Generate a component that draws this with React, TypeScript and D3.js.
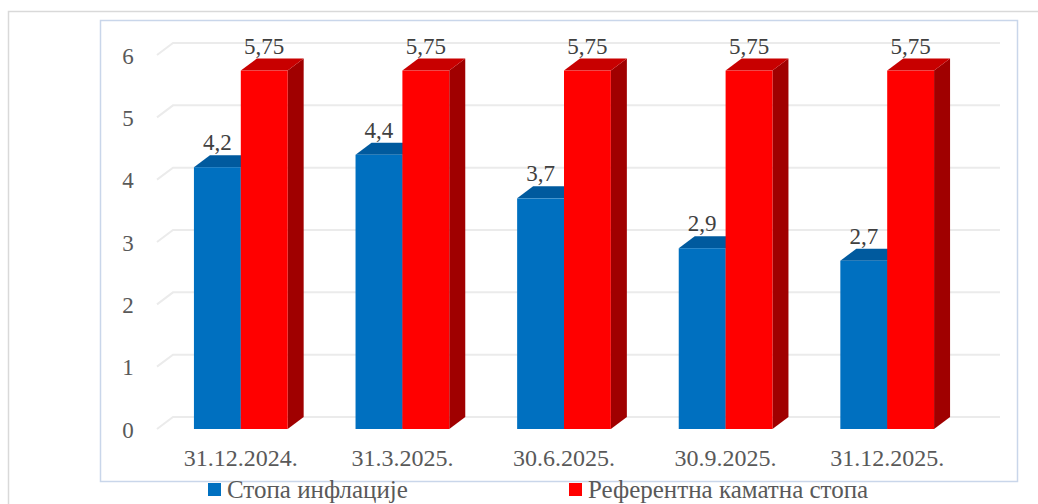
import React from "react";
import * as d3 from "d3";

const categories = ["31.12.2024.", "31.3.2025.", "30.6.2025.", "30.9.2025.", "31.12.2025."];
const inflation = [4.2, 4.4, 3.7, 2.9, 2.7];
const refRate = [5.75, 5.75, 5.75, 5.75, 5.75];
const yTicks = [0, 1, 2, 3, 4, 5, 6];
const seriesNames = ["Стопа инфлације", "Референтна каматна стопа"];

const fmt = (v: number) => String(v).replace(".", ",");

// front / top / side shades for each series
const shades = [
  { front: "#0070c0", top: "#005a9e", side: "#004c86" },
  { front: "#ff0000", top: "#c80000", side: "#a00000" },
];

const W = 1038;
const H = 504;
const DX = 16; // 3d depth
const DY = -12;
const FONT = "Liberation Serif, DejaVu Serif, serif";

const App = () => {
  const y = d3.scaleLinear().domain([0, 6]).range([429, 55]);
  const x0 = d3
    .scaleBand<string>()
    .domain(categories)
    .range([160, 968])
    .paddingInner(0.42)
    .paddingOuter(0.21);
  const x1 = d3
    .scaleBand<number>()
    .domain([0, 1])
    .range([0, x0.bandwidth()]);

  const series = [inflation, refRate];

  const bar = (cat: string, i: number, s: number, v: number) => {
    const xl = (x0(cat) as number) + (x1(s) as number);
    const w = x1.bandwidth();
    const yt = y(v);
    const yb = y(0);
    const c = shades[s];
    const top = `M${xl},${yt} L${xl + DX},${yt + DY} L${xl + w + DX},${yt + DY} L${xl + w},${yt} Z`;
    const side = `M${xl + w},${yt} L${xl + w + DX},${yt + DY} L${xl + w + DX},${yb + DY} L${xl + w},${yb} Z`;
    return (
      <g key={`b-${s}-${i}`}>
        <path d={side} fill={c.side} />
        <path d={top} fill={c.top} />
        <rect x={xl} y={yt} width={w} height={yb - yt} fill={c.front} />
      </g>
    );
  };

  return (
    <svg
      width={W}
      height={H}
      style={{ position: "absolute", left: 0, top: 0, background: "#fff", fontFamily: FONT }}
    >
      {/* outer frame */}
      <path d={`M8.5,${H} L8.5,11.5 L${W},11.5`} fill="none" stroke="#d9d9d9" strokeWidth={1.5} />
      {/* inner plot frame */}
      <rect x={100.5} y={20.5} width={917} height={461} fill="#fff" stroke="#c9d6ea" strokeWidth={1.5} />

      {/* back-wall gridlines */}
      {yTicks.map((t) => (
        <path
          key={`g-${t}`}
          d={`M157,${y(t)} L${157 + DX},${y(t) + DY} L1000,${y(t) + DY}`}
          fill="none"
          stroke="#ebebeb"
          strokeWidth={2}
        />
      ))}

      {/* y tick labels */}
      {yTicks.map((t) => (
        <text
          key={`yt-${t}`}
          x={128}
          y={y(t) + 1}
          textAnchor="middle"
          dominantBaseline="central"
          style={{ fontFamily: FONT }}
          fontSize={23}
          fill="#595959"
        >
          {t}
        </text>
      ))}

      {/* bars */}
      {categories.map((cat, i) => series.map((vals, s) => bar(cat, i, s, vals[i])))}

      {/* value labels */}
      {categories.map((cat, i) =>
        series.map((vals, s) => (
          <text
            key={`v-${s}-${i}`}
            x={(x0(cat) as number) + (x1(s) as number) + x1.bandwidth() / 2}
            y={y(vals[i]) - 17}
            textAnchor="middle"
            style={{ fontFamily: FONT }}
            fontSize={23}
            fill="#404040"
          >
            {fmt(vals[i])}
          </text>
        ))
      )}

      {/* category labels */}
      {categories.map((cat) => (
        <text
          key={`c-${cat}`}
          x={(x0(cat) as number) + x0.bandwidth() / 2}
          y={458}
          textAnchor="middle"
          dominantBaseline="central"
          style={{ fontFamily: FONT }}
          fontSize={24}
          fill="#595959"
        >
          {cat}
        </text>
      ))}

      {/* legend */}
      {seriesNames.map((name, s) => {
        const lx = s === 0 ? 208 : 569;
        return (
          <g key={`l-${s}`}>
            <rect x={lx} y={483} width={13} height={13} fill={shades[s].front} />
            <text
              x={lx + 19}
              y={489}
              dominantBaseline="central"
              style={{ fontFamily: FONT }}
              fontSize={25}
              fill="#595959"
            >
              {name}
            </text>
          </g>
        );
      })}
    </svg>
  );
};

export default App;
